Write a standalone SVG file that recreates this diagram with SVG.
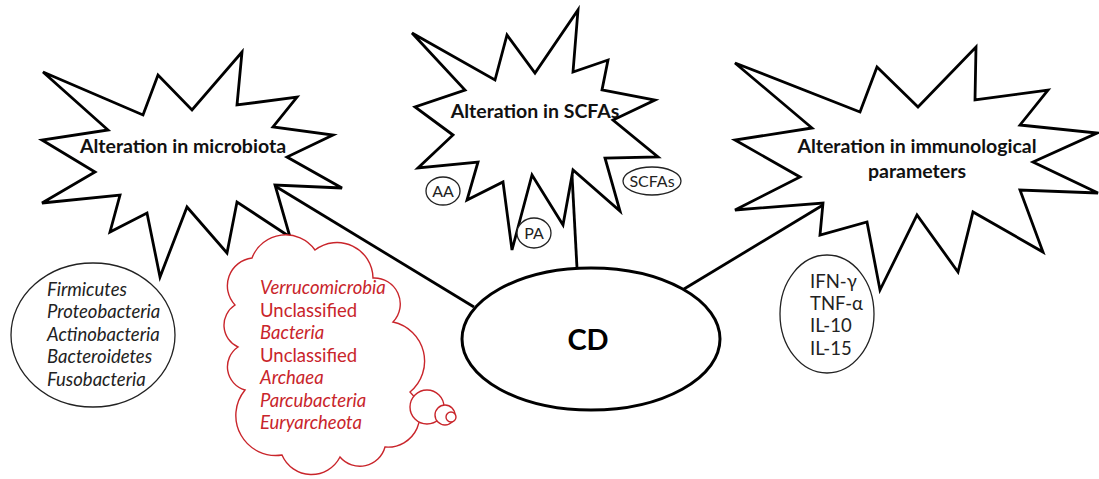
<svg xmlns="http://www.w3.org/2000/svg" width="1099" height="479" viewBox="0 0 1099 479">
<style>
.burst{fill:#fff;stroke:#000;stroke-width:2.8;stroke-linejoin:miter}
.conn{stroke:#000;stroke-width:2.8;fill:none}
.title{font-family:Lato,"Liberation Sans",sans-serif;font-weight:bold;font-size:19.5px;fill:#111;text-anchor:middle}
.thin{fill:#fff;stroke:#222;stroke-width:1.3}
.lbl{font-family:Lato,"Liberation Sans",sans-serif;font-size:18.5px;fill:#222}
.sm{font-size:16px}
.it{font-style:italic}
.red{fill:#c9252b}
.cloud{fill:#fff;stroke:#c9252b;stroke-width:1.4}
</style>
<rect width="1099" height="479" fill="#fff"/>
<g id="connectors">
<line class="conn" x1="275" y1="186" x2="474" y2="307"/>
<line class="conn" x1="572" y1="175" x2="577" y2="268"/>
<line class="conn" x1="823" y1="205" x2="684" y2="289"/>
</g>
<g id="node-microbiota">
<polygon class="burst" points="43,72 143,115 158,75 192,110 242,52 237,105 297,97 273,127 333,135 287,157 342,188 275,185 290,237 237,202 227,253 187,207 160,277 147,213 110,232 120,195 42,203 95,172 42,140 108,130"/>
<text class="title" x="183" y="153">Alteration in microbiota</text>
</g>
<g id="node-scfas">
<polygon class="burst" points="412,33 495,80 507,35 535,73 578,10 573,72 608,60 602,90 655,100 613,120 658,157 605,158 620,211 573,170 563,225 532,175 512,250 503,182 467,200 478,162 418,168 453,135 415,107 465,90"/>
<text class="title" x="535" y="118">Alteration in SCFAs</text>
</g>
<g id="node-immuno">
<polygon class="burst" points="735,63 860,112 877,67 918,107 976,47 975,100 1048,90 1020,125 1097,133 1033,162 1098,193 1020,190 1043,252 973,212 958,272 917,215 880,290 867,222 820,235 823,203 735,210 800,177 735,140 812,128"/>
<text class="title" x="917" y="153">Alteration in immunological</text>
<text class="title" x="917" y="178">parameters</text>
</g>
<g id="node-aa">
<ellipse class="thin" cx="443" cy="191" rx="17" ry="14"/>
<text class="lbl sm" x="443" y="197" text-anchor="middle">AA</text>
</g>
<g id="node-pa">
<ellipse class="thin" cx="534" cy="233" rx="17" ry="15"/>
<text class="lbl sm" x="534" y="239" text-anchor="middle">PA</text>
</g>
<g id="node-scfas-label">
<ellipse class="thin" cx="652" cy="181" rx="29" ry="14"/>
<text class="lbl sm" x="652" y="187" text-anchor="middle">SCFAs</text>
</g>
<g id="node-cd">
<ellipse cx="591" cy="339" rx="129" ry="71" fill="#fff" stroke="#000" stroke-width="3"/>
<text x="588" y="350" text-anchor="middle" font-family="Lato,'Liberation Sans',sans-serif" font-weight="bold" font-size="29" fill="#000">CD</text>
</g>
<g id="node-phyla">
<ellipse class="thin" cx="93" cy="335" rx="82" ry="72"/>
<text class="lbl it" x="47" y="296">Firmicutes</text>
<text class="lbl it" x="47" y="318">Proteobacteria</text>
<text class="lbl it" x="47" y="341">Actinobacteria</text>
<text class="lbl it" x="47" y="363">Bacteroidetes</text>
<text class="lbl it" x="47" y="386">Fusobacteria</text>
</g>
<g id="node-cloud">
<path class="cloud" d="M235,305 A28,28 0 0 1 252,258 A36,36 0 0 1 315,250 A36,36 0 0 1 373,278 A26,26 0 0 1 393,322 A40,40 0 0 1 410,392 A32,32 0 0 1 385,447 A26,26 0 0 1 340,457 A32,32 0 0 1 282,455 A40,40 0 0 1 245,390 A24,24 0 0 1 238,347 A24,24 0 0 1 235,305 Z"/>
<circle class="cloud" cx="427" cy="407" r="17"/>
<circle class="cloud" cx="445" cy="415" r="10"/>
<circle class="cloud" cx="451" cy="417" r="5"/>
<text class="lbl it red" x="260" y="294">Verrucomicrobia</text>
<text class="lbl red" x="260" y="317">Unclassified</text>
<text class="lbl it red" x="260" y="339">Bacteria</text>
<text class="lbl red" x="260" y="362">Unclassified</text>
<text class="lbl it red" x="260" y="384">Archaea</text>
<text class="lbl it red" x="260" y="407">Parcubacteria</text>
<text class="lbl it red" x="260" y="429">Euryarcheota</text>
</g>
<g id="node-cytokines">
<ellipse class="thin" cx="827" cy="314" rx="47" ry="59"/>
<text class="lbl" x="810" y="288">IFN-γ</text>
<text class="lbl" x="810" y="310">TNF-α</text>
<text class="lbl" x="810" y="332">IL-10</text>
<text class="lbl" x="810" y="355">IL-15</text>
</g>
</svg>
